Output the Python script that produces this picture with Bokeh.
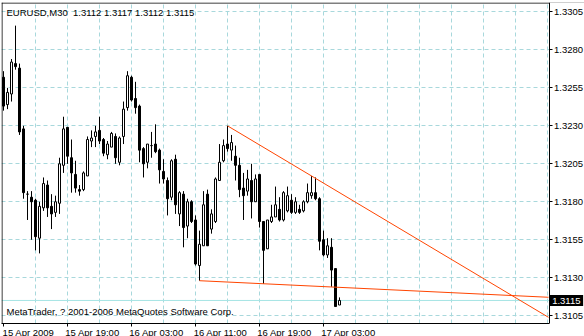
from bokeh.plotting import figure
from bokeh.models import (FixedTicker, PrintfTickFormatter, Label, Span, Range1d,
                          ColumnDataSource, BoxAnnotation)
from bokeh.embed import file_html
from bokeh.resources import INLINE

# ---------------- data (EURUSD, M30, bars from 15 Apr 2009 11:00) ----------------
opens = [1.3262, 1.3244, 1.3251, 1.3271, 1.3268, 1.3228, 1.3185, 1.3183, 1.3181, 1.3156,
         1.3176, 1.3191, 1.3177, 1.3173, 1.3179, 1.3204, 1.3229, 1.3209, 1.3198, 1.3188,
         1.3188, 1.3197, 1.3220, 1.3223, 1.3227, 1.3221, 1.3211, 1.3216, 1.3223, 1.3206,
         1.3223, 1.3242, 1.3262, 1.3248, 1.3243, 1.3215, 1.3206, 1.3217, 1.3218, 1.3214,
         1.3200, 1.3194, 1.3183, 1.3208, 1.3172, 1.3185, 1.3164, 1.3180, 1.3168, 1.3138,
         1.3151, 1.3185, 1.3162, 1.3167, 1.3194, 1.3207, 1.3218, 1.3214, 1.3210, 1.3204,
         1.3189, 1.3187, 1.3194, 1.3180, 1.3198, 1.3167, 1.3149, 1.3167, 1.3170, 1.3175,
         1.3168, 1.3174, 1.3181, 1.3173, 1.3175, 1.3174, 1.3180, 1.3184, 1.3186, 1.3182,
         1.3155, 1.3145, 1.3150, 1.3136, 1.3112]
highs = [1.3266, 1.3255, 1.3274, 1.3296, 1.3271, 1.3230, 1.3187, 1.3187, 1.3182, 1.3180,
         1.3196, 1.3194, 1.3185, 1.3184, 1.3209, 1.3236, 1.3229, 1.3221, 1.3207, 1.3191,
         1.3200, 1.3223, 1.3227, 1.3230, 1.3236, 1.3222, 1.3220, 1.3226, 1.3225, 1.3223,
         1.3246, 1.3266, 1.3263, 1.3259, 1.3244, 1.3216, 1.3218, 1.3226, 1.3231, 1.3215,
         1.3208, 1.3196, 1.3208, 1.3211, 1.3187, 1.3187, 1.3182, 1.3181, 1.3171, 1.3161,
         1.3187, 1.3188, 1.3175, 1.3196, 1.3218, 1.3221, 1.3230, 1.3224, 1.3217, 1.3209,
         1.3199, 1.3201, 1.3205, 1.3198, 1.3198, 1.3167, 1.3168, 1.3178, 1.3190, 1.3183,
         1.3187, 1.3190, 1.3185, 1.3183, 1.3178, 1.3181, 1.3192, 1.3197, 1.3196, 1.3183,
         1.3161, 1.3156, 1.3156, 1.3136, 1.3117]
lows = [1.3240, 1.3241, 1.3246, 1.3267, 1.3224, 1.3182, 1.3168, 1.3155, 1.3148, 1.3146,
        1.3174, 1.3170, 1.3162, 1.3170, 1.3172, 1.3199, 1.3205, 1.3186, 1.3186, 1.3184,
        1.3187, 1.3197, 1.3216, 1.3216, 1.3218, 1.3210, 1.3208, 1.3216, 1.3205, 1.3204,
        1.3218, 1.3240, 1.3246, 1.3238, 1.3206, 1.3196, 1.3202, 1.3209, 1.3212, 1.3192,
        1.3192, 1.3171, 1.3181, 1.3172, 1.3164, 1.3150, 1.3156, 1.3166, 1.3138, 1.3128,
        1.3151, 1.3151, 1.3159, 1.3166, 1.3194, 1.3206, 1.3213, 1.3207, 1.3194, 1.3183,
        1.3168, 1.3184, 1.3169, 1.3180, 1.3163, 1.3126, 1.3149, 1.3166, 1.3170, 1.3167,
        1.3167, 1.3173, 1.3172, 1.3172, 1.3172, 1.3173, 1.3179, 1.3182, 1.3181, 1.3148,
        1.3144, 1.3143, 1.3124, 1.3111, 1.3112]
closes = [1.3243, 1.3252, 1.3272, 1.3269, 1.3226, 1.3186, 1.3185, 1.3180, 1.3157, 1.3177,
          1.3192, 1.3176, 1.3172, 1.3180, 1.3205, 1.3228, 1.3210, 1.3199, 1.3189, 1.3187,
          1.3199, 1.3221, 1.3222, 1.3226, 1.3220, 1.3212, 1.3218, 1.3225, 1.3209, 1.3222,
          1.3241, 1.3263, 1.3247, 1.3242, 1.3214, 1.3205, 1.3218, 1.3217, 1.3213, 1.3201,
          1.3195, 1.3182, 1.3207, 1.3178, 1.3186, 1.3163, 1.3180, 1.3167, 1.3139, 1.3152,
          1.3178, 1.3151, 1.3172, 1.3195, 1.3206, 1.3217, 1.3215, 1.3219, 1.3204, 1.3188,
          1.3184, 1.3195, 1.3180, 1.3195, 1.3167, 1.3148, 1.3168, 1.3170, 1.3178, 1.3168,
          1.3186, 1.3184, 1.3173, 1.3180, 1.3173, 1.3180, 1.3186, 1.3186, 1.3182, 1.3154,
          1.3145, 1.3151, 1.3135, 1.3111, 1.3115]

price_ticks = [1.3105, 1.3130, 1.3155, 1.3180, 1.3205, 1.3230, 1.3255, 1.3280, 1.3305]
time_label_bars = [0, 16, 32, 48, 64, 80]
time_labels = ["15 Apr 2009", "15 Apr 19:00", "16 Apr 03:00", "16 Apr 11:00", "16 Apr 19:00", "17 Apr 03:00"]
grid_bars = list(range(8, 137, 8))

trend1_bars = [56, 77]
trend1_prices = [1.3230, 1.3197]
trend2_bars = [49, 65]
trend2_prices = [1.3128, 1.3126]
bid_price = 1.3115

symbol = "EURUSD,M30"
last_ohlc = [1.3112, 1.3117, 1.3112, 1.3115]
copyright_text = "MetaTrader, ? 2001-2006 MetaQuotes Software Corp."

# ---------------- layout constants ----------------
FONT = "Liberation Sans"
FS = "9.5px"
NBSP = "\u00a0"
PX_PER_BAR = 4
FRAME_L, FRAME_T = 1, 2
FRAME_W, FRAME_H = 583, 321       # frame runs to the right window edge
CHART_R = 548.5                   # price axis line (right border of the chart area)
PX_PER_PRICE = 15184.0
x_start = -0.5
x_end = x_start + FRAME_W / PX_PER_BAR
y_top = 1.331123
y_bot = y_top - FRAME_H / PX_PER_PRICE


def bar_at(px):
    return (px - FRAME_L) / PX_PER_BAR + x_start


def price_at(py):
    return y_top - (py - FRAME_T) / PX_PER_PRICE


GRID = "#a8d8dc"

p = figure(frame_width=FRAME_W, frame_height=FRAME_H,
           x_range=Range1d(x_start, x_end), y_range=Range1d(y_bot, y_top),
           output_backend="svg", toolbar_location=None, y_axis_location="right",
           min_border_left=FRAME_L, min_border_top=FRAME_T, min_border_right=0,
           min_border_bottom=13, background_fill_color="white",
           border_fill_color="white", outline_line_color=None)

# y axis (price scale) drawn at the chart's right border
yax = p.yaxis[0]
yax.fixed_location = bar_at(CHART_R)
yax.ticker = FixedTicker(ticks=price_ticks)
yax.formatter = PrintfTickFormatter(format="%.4f")
yax.major_tick_out = 3
yax.major_tick_in = 0
yax.minor_tick_out = 0
yax.minor_tick_in = 0
yax.major_label_standoff = 2
yax.major_label_text_font = FONT
yax.major_label_text_font_size = FS
yax.major_label_text_color = "black"
yax.axis_line_color = "black"
yax.major_tick_line_color = "black"

# x axis: labels left-aligned at their tick -> label centres shifted right
LABEL_SHIFT = 6.25
xax = p.xaxis[0]
label_pos = [b + LABEL_SHIFT for b in time_label_bars]
xax.ticker = FixedTicker(ticks=label_pos, minor_ticks=time_label_bars)
xax.major_label_overrides = {pos: lab for pos, lab in zip(label_pos, time_labels)}
xax.bounds = (x_start, bar_at(CHART_R))
xax.major_tick_out = 0
xax.major_tick_in = 0
xax.major_tick_line_color = None
xax.minor_tick_out = 3
xax.minor_tick_in = 0
xax.minor_tick_line_color = "black"
xax.major_label_standoff = 0
xax.major_label_text_font = FONT
xax.major_label_text_font_size = FS
xax.major_label_text_color = "black"
xax.axis_line_color = "black"

# grids
p.xgrid.ticker = FixedTicker(ticks=grid_bars)
p.ygrid.ticker = FixedTicker(ticks=price_ticks)
for g in (p.xgrid[0], p.ygrid[0]):
    g.grid_line_color = GRID
    g.grid_line_dash = "4 3"
    g.grid_line_width = 1

# bid line and left / top borders of the chart area
p.add_layout(Span(location=bid_price, dimension="width", line_color="#a6e4e4", line_width=1,
                  level="underlay"))
p.add_layout(Span(location=bar_at(1.5), dimension="height", line_color="black", line_width=1,
                  level="underlay"))
p.add_layout(Span(location=price_at(2.5), dimension="width", line_color="black", line_width=1,
                  level="underlay"))
# price-scale strip right of the chart stays blank
p.add_layout(BoxAnnotation(left=bar_at(CHART_R), fill_color="white", fill_alpha=1.0,
                           line_color=None, level="underlay"))

# candles
bars = list(range(len(opens)))
src = ColumnDataSource(dict(
    x=bars, high=highs, low=lows,
    top=[max(o, c) for o, c in zip(opens, closes)],
    bottom=[min(o, c) for o, c in zip(opens, closes)],
    fill=["white" if c >= o else "black" for o, c in zip(opens, closes)],
))
p.segment(x0="x", y0="high", x1="x", y1="low", source=src, line_color="black", line_width=1)
p.vbar(x="x", width=0.5, top="top", bottom="bottom", source=src,
       fill_color="fill", line_color="black", line_width=1)


# trend lines (rays extended to the chart's right border)
def ray(bx, py):
    slope = (py[1] - py[0]) / (bx[1] - bx[0])
    xs = [bx[0], bar_at(CHART_R - 0.5)]
    ys = [py[0] + slope * (x - bx[0]) for x in xs]
    return xs, ys


for bx, py in ((trend1_bars, trend1_prices), (trend2_bars, trend2_prices)):
    xs, ys = ray(bx, py)
    p.line(xs, ys, line_color="#ff4500", line_width=1)

# texts
header_text = symbol + NBSP + " " + " ".join("%.4f" % v for v in last_ohlc)
p.add_layout(Label(x=bar_at(6), y=price_at(11.5), text=header_text, text_font=FONT,
                   text_font_size=FS, text_color="black", text_baseline="middle"))
p.add_layout(Label(x=bar_at(6), y=price_at(310.5), text=copyright_text, text_font=FONT,
                   text_font_size=FS, text_color="black", text_baseline="middle"))
p.add_layout(Label(x=bar_at(549), y=bid_price, text=NBSP + "%.4f" % bid_price + NBSP,
                   text_font=FONT, text_font_size=FS, text_color="white",
                   text_baseline="middle", background_fill_color="black"))

open("out.html", "w").write(file_html(p, INLINE))
